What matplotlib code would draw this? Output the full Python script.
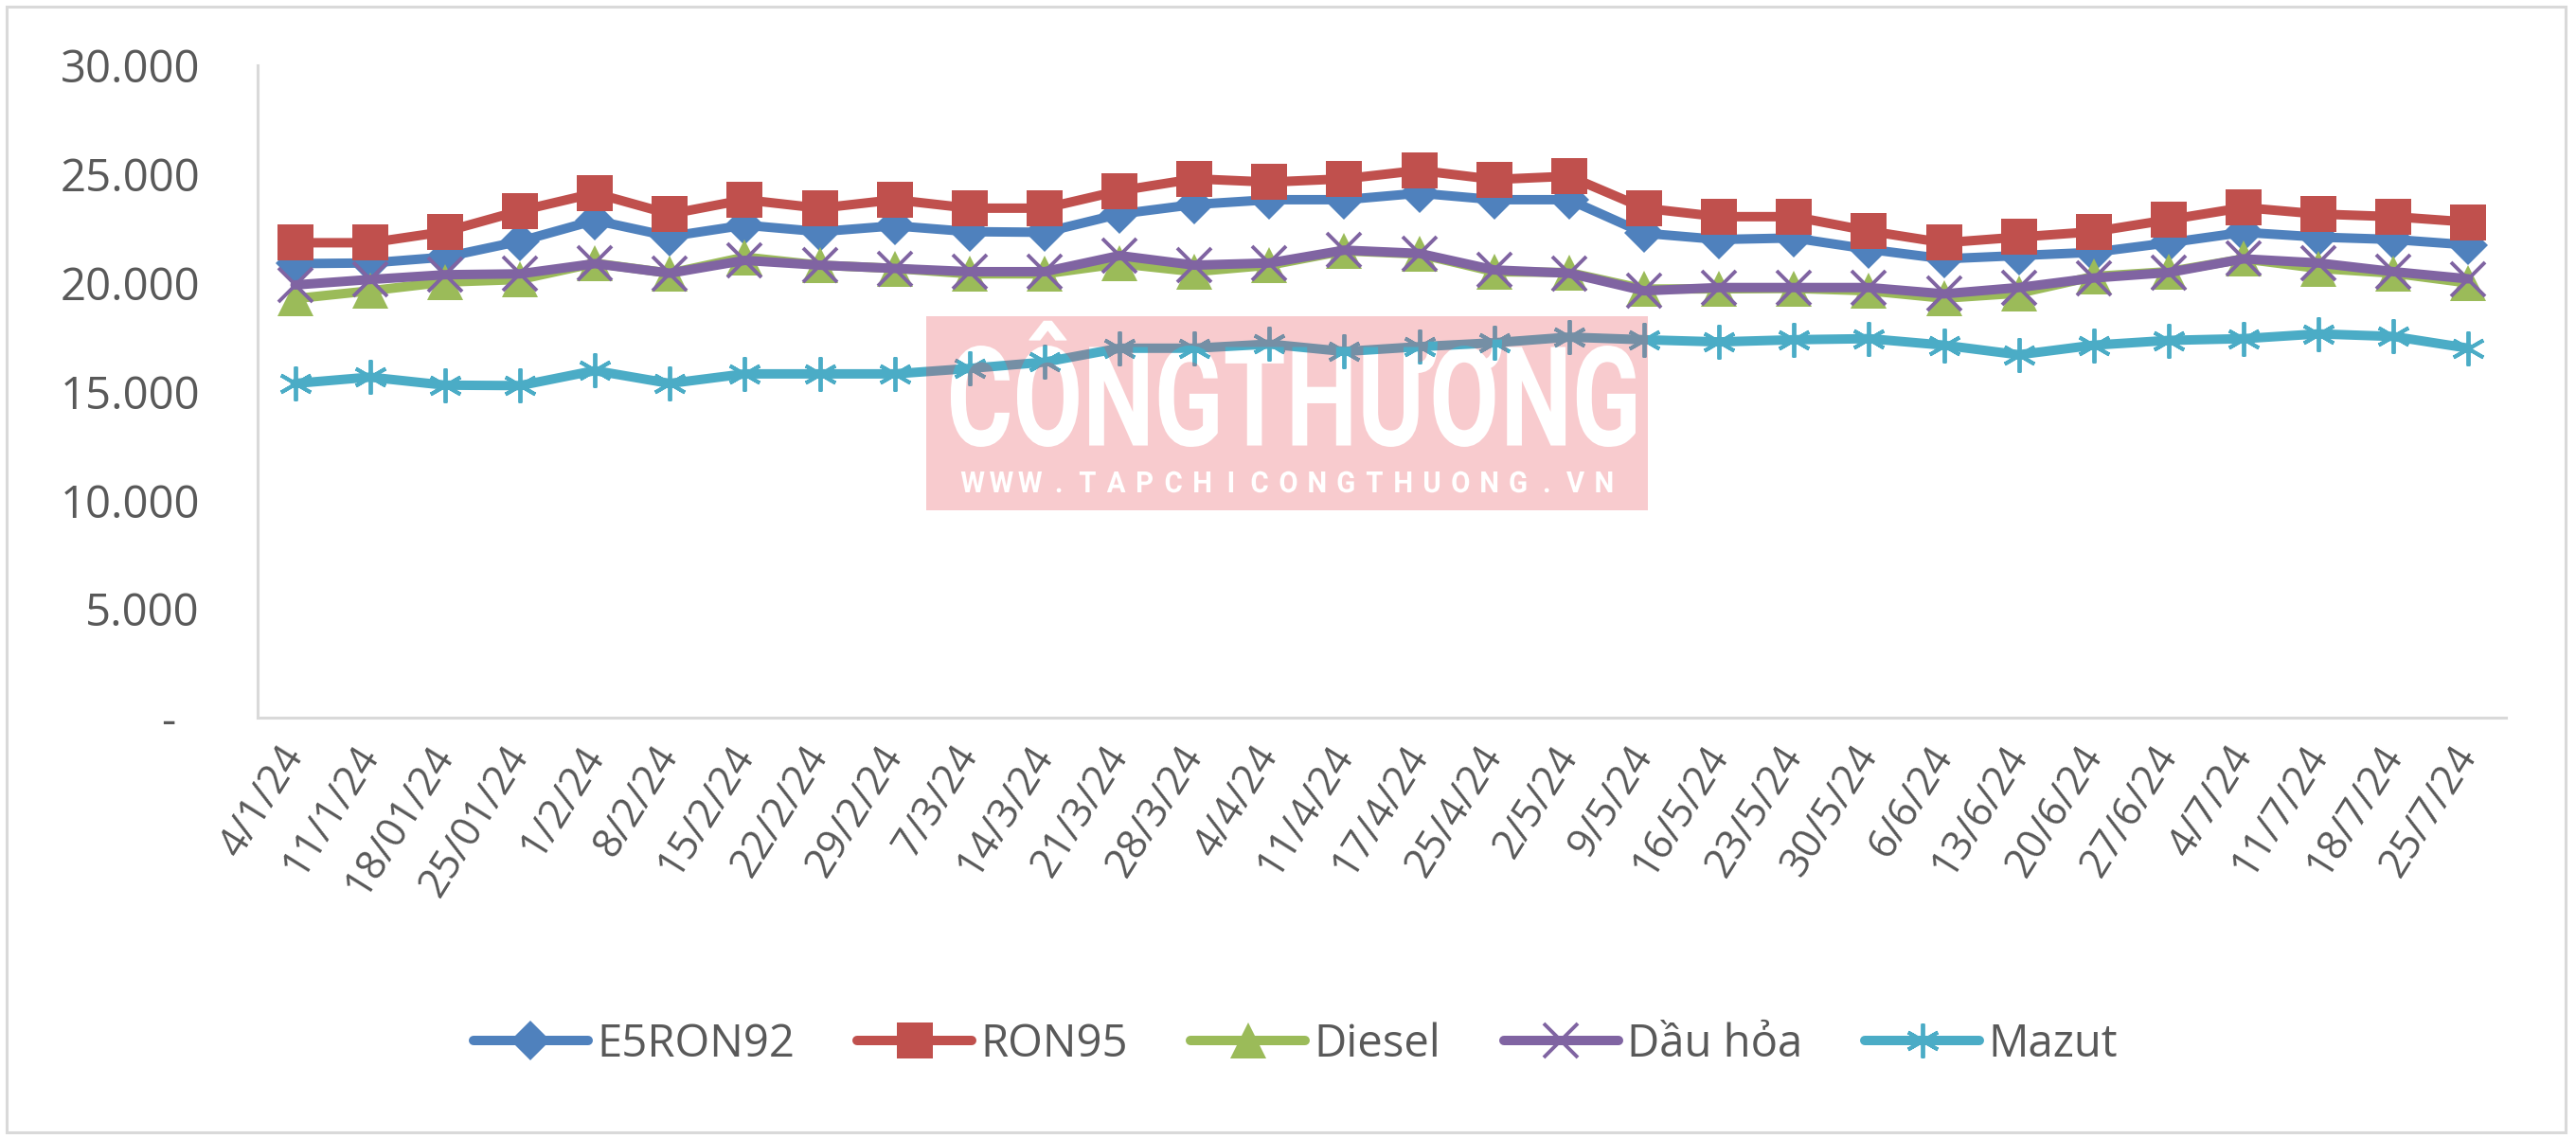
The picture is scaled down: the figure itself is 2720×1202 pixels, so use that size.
import numpy as np
import matplotlib
matplotlib.use("Agg")
import matplotlib.pyplot as plt
from matplotlib.textpath import TextPath
from matplotlib.font_manager import FontProperties
from matplotlib.path import Path
from matplotlib.patches import PathPatch, Rectangle
from matplotlib.transforms import Affine2D, IdentityTransform

plt.rcParams['font.family'] = ['Open Sans', 'DejaVu Sans']

# ---------------- data ----------------
dates = ["4/1/24", "11/1/24", "18/01/24", "25/01/24", "1/2/24", "8/2/24", "15/2/24",
         "22/2/24", "29/2/24", "7/3/24", "14/3/24", "21/3/24", "28/3/24", "4/4/24",
         "11/4/24", "17/4/24", "25/4/24", "2/5/24", "9/5/24", "16/5/24", "23/5/24",
         "30/5/24", "6/6/24", "13/6/24", "20/6/24", "27/6/24", "4/7/24", "11/7/24",
         "18/7/24", "25/7/24"]

e5ron92 = [20880, 20910, 21180, 21910, 22870, 22130, 22650, 22350, 22620, 22350,
           22320, 23160, 23600, 23820, 23820, 24120, 23820, 23820, 22280, 21990,
           22060, 21540, 21100, 21250, 21400, 21840, 22320, 22100, 21990, 21740]
ron95 = [21840, 21840, 22350, 23310, 24120, 23160, 23820, 23430, 23820, 23430,
         23430, 24230, 24780, 24630, 24780, 25170, 24750, 24900, 23430, 23040,
         23040, 22380, 21840, 22100, 22350, 22900, 23460, 23160, 23040, 22790]
diesel = [19270, 19630, 20030, 20150, 20900, 20440, 21180, 20810, 20660, 20410,
          20410, 20880, 20510, 20810, 21470, 21320, 20510, 20470, 19710, 19720,
          19740, 19630, 19290, 19520, 20290, 20510, 21100, 20660, 20440, 19990]
dau_hoa = [19900, 20150, 20370, 20410, 20880, 20440, 21030, 20810, 20660, 20510,
           20510, 21250, 20810, 20910, 21500, 21350, 20590, 20440, 19630, 19780,
           19780, 19780, 19490, 19780, 20220, 20470, 21100, 20910, 20510, 20180]
mazut = [15370, 15660, 15290, 15270, 15960, 15370, 15810, 15810, 15810, 16060,
         16350, 16990, 16990, 17180, 16840, 17060, 17240, 17500, 17380, 17280,
         17380, 17430, 17130, 16690, 17130, 17350, 17430, 17650, 17530, 16990]

series_names = ["E5RON92", "RON95", "Diesel", "Dầu hỏa", "Mazut"]
y_ticks = [0, 5000, 10000, 15000, 20000, 25000, 30000]

# ---------------- figure ----------------
W, H, DPI = 2720, 1202, 200
fig = plt.figure(figsize=(W / DPI, H / DPI), dpi=DPI)
fig.patch.set_facecolor('white')

# outer border
fig.add_artist(Rectangle((7 / W, 6 / H), (2709 - 7) / W, (1196 - 7) / H,
                         transform=fig.transFigure, fill=False,
                         edgecolor='#D9D9D9', lw=1.1))

ax = fig.add_axes([272 / W, (H - 758) / H, (2646 - 272) / W, (758 - 69) / H])

x = np.arange(len(dates))
styles = [
    (e5ron92, '#4F81BD', dict(marker='D', ms=10.5, mew=0)),
    (ron95, '#C0504D', dict(marker='s', ms=14, mew=0)),
    (diesel, '#9BBB59', dict(marker='^', ms=14, mew=0)),
    (dau_hoa, '#8064A2', dict(marker='x', ms=13, mew=1.4)),
    (mazut, '#4BACC6', dict(marker=(6, 2, 0), ms=13, mew=1.4)),
]
handles = []
for (vals, col, mk), name in zip(styles, series_names):
    ln, = ax.plot(x, vals, color=col, lw=3.6, mfc=col, mec=col,
                  solid_joinstyle='round', solid_capstyle='round',
                  label=name, **mk)
    handles.append(ln)

ax.set_xlim(-0.5, len(dates) - 0.5)
ax.set_ylim(0, 30000)
ax.set_yticks(y_ticks)
ax.set_yticklabels([("-  " if v == 0 else f"{v:,.0f}".replace(",", ".")) for v in y_ticks],
                   fontsize=17, color='#595959')
ax.set_xticks(x)
ax.set_xticklabels(dates, rotation=58, ha='right', va='center',
                   rotation_mode='anchor', fontsize=15.5, color='#595959')
ax.tick_params(axis='both', length=0)
ax.tick_params(axis='y', pad=22)
ax.tick_params(axis='x', pad=12)
for s in ['top', 'right']:
    ax.spines[s].set_visible(False)
for s in ['left', 'bottom']:
    ax.spines[s].set_color('#D9D9D9')
    ax.spines[s].set_linewidth(1.1)

fig.legend(handles, series_names, loc='center', bbox_to_anchor=(0.503, 0.0824),
           ncol=5, frameon=False, handlelength=2.56, handletextpad=0.2,
           columnspacing=1.4, fontsize=17, labelcolor='#595959', numpoints=1)

# ---------------- watermark (pink overlay with knocked-out letters) ----------------
def poly_area(p):
    xs, ys = p[:, 0], p[:, 1]
    return 0.5 * np.sum(xs * np.roll(ys, -1) - np.roll(xs, -1) * ys)

fp_big = FontProperties(family=['Liberation Sans Narrow', 'Roboto', 'DejaVu Sans'], weight='bold')
ref = TextPath((0, 0), "CONGTHUONG", size=100, prop=fp_big)
ext = ref.get_extents()
bx0, bx1, by0, by1 = 1004, 1720, H - 472, H - 365
sx = (bx1 - bx0) / ext.width
sy = (by1 - by0) / ext.height
big = TextPath((0, 0), "CÔNGTHƯƠNG", size=100, prop=fp_big)
big = Affine2D().translate(-ext.x0, -ext.y0).scale(sx, sy).translate(bx0, by0).transform_path(big)

fp_small = FontProperties(family=['Roboto', 'DejaVu Sans'], weight='bold')
small_txt = "WWW.TAPCHICONGTHUONG.VN"
sref = TextPath((0, 0), "W", size=100, prop=fp_small).get_extents()
s_scale = 22 / sref.height
s_x0, s_x1, s_y0 = 1012, 1709, H - 520
step = (s_x1 - s_x0) / len(small_txt)
small_paths = []
for i, ch in enumerate(small_txt):
    tp = TextPath((0, 0), ch, size=100, prop=fp_small)
    e = tp.get_extents()
    cx = s_x0 + (i + 0.5) * step
    tr = Affine2D().translate(-(e.x0 + e.x1) / 2, -sref.y0).scale(s_scale * 0.95, s_scale).translate(cx, s_y0)
    small_paths.append(tr.transform_path(tp))

polys = big.to_polygons()
outer = max(polys, key=lambda p: abs(poly_area(p)))
text_sign = np.sign(poly_area(outer))
rx0, rx1, ry0, ry1 = 978, 1740, H - 539, H - 334
rect_v = np.array([[rx0, ry0], [rx1, ry0], [rx1, ry1], [rx0, ry1], [rx0, ry0]], float)
if text_sign > 0:
    rect_v = rect_v[::-1]
rect_path = Path(rect_v, [Path.MOVETO, Path.LINETO, Path.LINETO, Path.LINETO, Path.CLOSEPOLY])
compound = Path.make_compound_path(rect_path, big, *small_paths)
fig.add_artist(PathPatch(compound, transform=IdentityTransform(), facecolor='#E8424C',
                         alpha=0.27, edgecolor='none', zorder=5))

fig.savefig("out.png", dpi=DPI)
